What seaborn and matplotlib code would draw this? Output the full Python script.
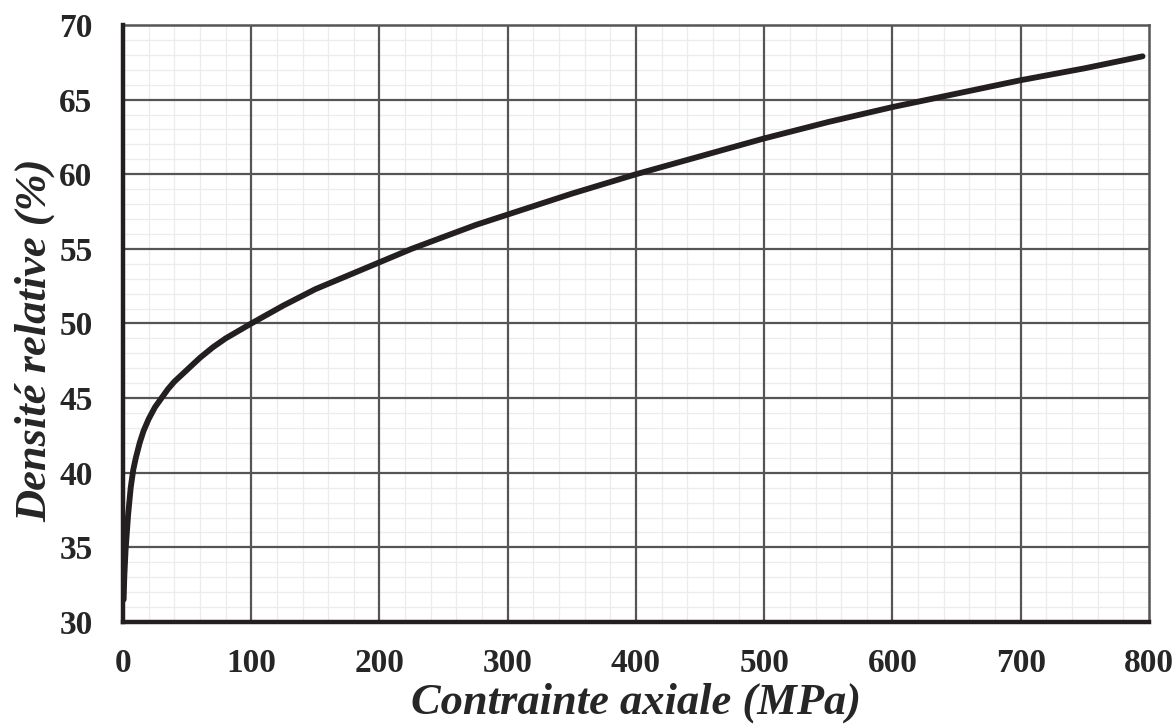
import matplotlib
matplotlib.use("Agg")
import matplotlib.pyplot as plt
import pandas as pd
import seaborn as sns
from matplotlib.ticker import MultipleLocator

# values
contrainte = [0.5, 1, 2, 3, 4, 6, 8, 10, 13, 16, 20, 25, 30, 35, 40, 50, 60, 70,
              80, 90, 100, 125, 150, 175, 200, 225, 250, 275, 300, 350, 400, 450,
              500, 550, 600, 650, 700, 750, 795]
densite = [31.5, 33.0, 34.8, 36.0, 37.2, 39.0, 40.2, 41.0, 42.0, 42.8, 43.6, 44.4,
           45.0, 45.6, 46.1, 46.9, 47.7, 48.4, 49.0, 49.5, 50.0, 51.2, 52.3, 53.2,
           54.1, 55.0, 55.8, 56.6, 57.3, 58.7, 60.0, 61.2, 62.4, 63.5, 64.5, 65.4,
           66.3, 67.1, 67.9]

x_major = [100, 200, 300, 400, 500, 600, 700]
y_major = [35, 40, 45, 50, 55, 60, 65]

df = pd.DataFrame({"contrainte": contrainte, "densite": densite})

sns.set_style("white")
plt.rcParams["font.family"] = ["Liberation Serif", "DejaVu Serif"]

fig = plt.figure(figsize=(11.76, 7.24), dpi=100)
ax = fig.add_axes([0.1046, 0.1409, 0.8724, 0.8246])

ax.set_xlim(0, 800)
ax.set_ylim(30, 70)
ax.xaxis.set_major_locator(MultipleLocator(100))
ax.xaxis.set_minor_locator(MultipleLocator(20))
ax.yaxis.set_major_locator(MultipleLocator(5))
ax.yaxis.set_minor_locator(MultipleLocator(1))

# light minor grid below, dark major grid on top of it
ax.grid(which="minor", color="#ececec", linewidth=0.9)
ax.set_axisbelow(True)
for xv in x_major:
    ax.axvline(xv, color="#555555", linewidth=1.6, zorder=1)
for yv in y_major:
    ax.axhline(yv, color="#555555", linewidth=1.6, zorder=1)

sns.lineplot(data=df, x="contrainte", y="densite", ax=ax, color="#231f20",
             linewidth=4.2, solid_capstyle="round", zorder=5)

for side in ["left", "bottom"]:
    ax.spines[side].set_color("#231f20")
    ax.spines[side].set_linewidth(3.2)
    ax.spines[side].set_zorder(6)
for side in ["top", "right"]:
    ax.spines[side].set_color("#555555")
    ax.spines[side].set_linewidth(1.8)

ax.tick_params(which="major", direction="inout", length=20, width=3,
               color="#231f20", labelsize=24)
ax.tick_params(axis="x", which="major", pad=9)
ax.tick_params(axis="y", which="major", pad=12)
ax.tick_params(which="minor", length=0)
for lab in ax.get_xticklabels() + ax.get_yticklabels():
    lab.set_fontweight("bold")

ax.set_xlabel("Contrainte axiale (MPa)", fontsize=32, fontweight="bold",
              fontstyle="italic", labelpad=2)
ax.set_ylabel("Densité relative (%)", fontsize=32, fontweight="bold",
              fontstyle="italic")
ax.yaxis.set_label_coords(-0.066, 0.472)

fig.savefig("out.png", dpi=100)
plt.close(fig)
